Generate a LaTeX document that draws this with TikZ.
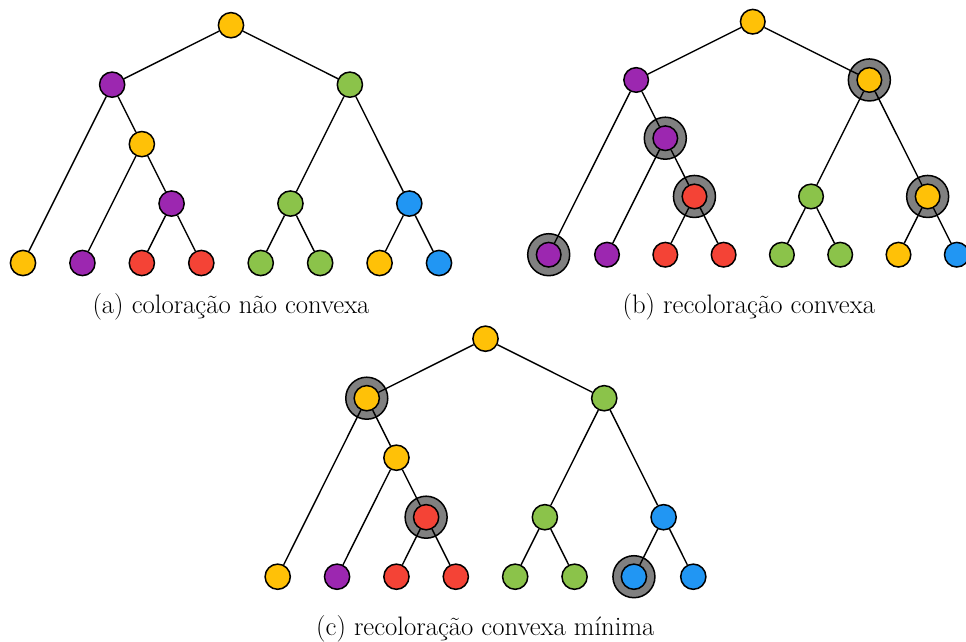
\documentclass[tikz,border=0pt]{standalone}
\usepackage{fontspec}
\setmainfont{Latin Modern Roman}
\definecolor{cY}{HTML}{FFC107}
\definecolor{cP}{HTML}{9C27B0}
\definecolor{cG}{HTML}{8BC34A}
\definecolor{cB}{HTML}{2196F3}
\definecolor{cR}{HTML}{F44336}
\definecolor{cGray}{HTML}{808080}
\tikzset{
  vert/.style={circle, draw=black, line width=1.5pt, minimum size=25.2pt, inner sep=0pt},
  ringst/.style={circle, draw=black, fill=cGray, line width=1.5pt, minimum size=42pt, inner sep=0pt},
  edge/.style={draw=black, line width=1.4pt},
  captext/.style={anchor=base, inner sep=0pt, font=\fontsize{26.7}{32}\selectfont}
}
\begin{document}
\begin{tikzpicture}
\clip (0,0) rectangle (966pt,-641pt);
% ---------- tree (a)
\begin{scope}[shift={(23pt,-25.2pt)}, x=59.43pt, y=-59.45pt]
\foreach \n/\x/\y/\c in {0/3.5/0/cY, L/1.5/1/cP, R/5.5/1/cG, LR/2/2/cY, LRR/2.5/3/cP, RL/4.5/3/cG, RR/6.5/3/cB,
  l0/0/4/cY, l1/1/4/cP, l2/2/4/cR, l3/3/4/cR, l4/4/4/cG, l5/5/4/cG, l6/6/4/cY, l7/7/4/cB}
  \node[vert, fill=\c] (a\n) at (\x,\y) {};
\foreach \s/\t in {0/L, 0/R, L/l0, L/LR, LR/l1, LR/LRR, LRR/l2, LRR/l3, R/RL, R/RR, RL/l4, RL/l5, RR/l6, RR/l7}
  \draw[edge] (a\s) -- (a\t);
\end{scope}
\node[captext] (capa) at (231pt,-313pt) {(a) coloração não convexa};
% ---------- tree (b)
\begin{scope}[shift={(548.7pt,-21.7pt)}, x=58.3pt, y=-58.25pt]
\foreach \x/\y in {5.5/1, 2/2, 2.5/3, 6.5/3, 0/4}
  \node[ringst] at (\x,\y) {};
\foreach \n/\x/\y/\c in {0/3.5/0/cY, L/1.5/1/cP, R/5.5/1/cY, LR/2/2/cP, LRR/2.5/3/cR, RL/4.5/3/cG, RR/6.5/3/cY,
  l0/0/4/cP, l1/1/4/cP, l2/2/4/cR, l3/3/4/cR, l4/4/4/cG, l5/5/4/cG, l6/6/4/cY, l7/7/4/cB}
  \node[vert, fill=\c, minimum size=24.6pt] (b\n) at (\x,\y) {};
\foreach \s/\t in {0/L, 0/R, L/l0, L/LR, LR/l1, LR/LRR, LRR/l2, LRR/l3, R/RL, R/RR, RL/l4, RL/l5, RR/l6, RR/l7}
  \draw[edge] (b\s) -- (b\t);
\end{scope}
\node[captext] (capb) at (748.8pt,-313pt) {(b) recoloração convexa};
% ---------- tree (c)
\begin{scope}[shift={(277.7pt,-338.7pt)}, x=59.37pt, y=-59.5pt]
\foreach \x/\y in {1.5/1, 2.5/3, 6/4}
  \node[ringst] at (\x,\y) {};
\foreach \n/\x/\y/\c in {0/3.5/0/cY, L/1.5/1/cY, R/5.5/1/cG, LR/2/2/cY, LRR/2.5/3/cR, RL/4.5/3/cG, RR/6.5/3/cB,
  l0/0/4/cY, l1/1/4/cP, l2/2/4/cR, l3/3/4/cR, l4/4/4/cG, l5/5/4/cG, l6/6/4/cB, l7/7/4/cB}
  \node[vert, fill=\c] (c\n) at (\x,\y) {};
\foreach \s/\t in {0/L, 0/R, L/l0, L/LR, LR/l1, LR/LRR, LRR/l2, LRR/l3, R/RL, R/RR, RL/l4, RL/l5, RR/l6, RR/l7}
  \draw[edge] (c\s) -- (c\t);
\end{scope}
\node[captext] (capc) at (485.3pt,-635.3pt) {(c) recoloração convexa mínima};
\end{tikzpicture}
\end{document}
